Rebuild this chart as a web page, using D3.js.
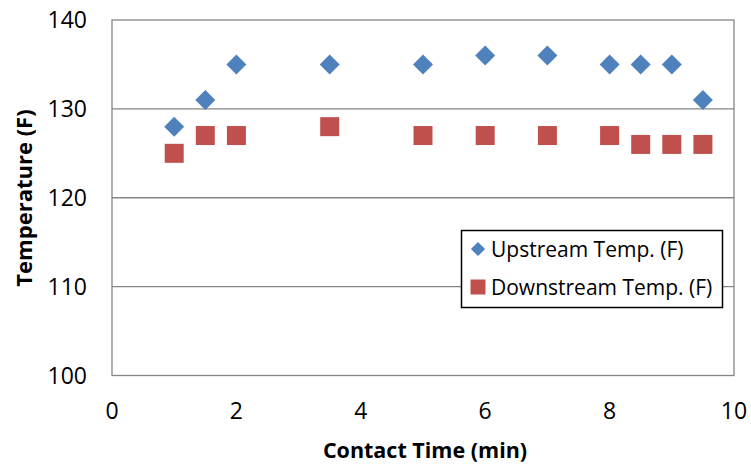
<html>
<head>
  <meta charset="utf-8">
  <script src="https://cdnjs.cloudflare.com/ajax/libs/d3/7.8.5/d3.min.js"></script>
  <style>
    body { margin: 0; background: #fff; }
    text { font-family: "Open Sans", sans-serif; fill: #000; }
  </style>
</head>
<body>
  <div id="viz"></div>
  <script>
    // contact time (min)
    var times = [1, 1.5, 2, 3.5, 5, 6, 7, 8, 8.5, 9, 9.5];
    // temperatures (F)
    var upstream = [128, 131, 135, 135, 135, 136, 136, 135, 135, 135, 131];
    var downstream = [125, 127, 127, 128, 127, 127, 127, 127, 126, 126, 126];
    var xTicks = [0, 2, 4, 6, 8, 10];
    var yTicks = [100, 110, 120, 130, 140];
    var seriesNames = ["Upstream Temp. (F)", "Downstream Temp. (F)"];

    var width = 751, height = 469;
    var plotLeft = 112, plotRight = 734, plotTop = 20, plotBottom = 375.5;

    var svg = d3.select("#viz").append("svg")
        .attr("width", width)
        .attr("height", height);

    var x = d3.scaleLinear().domain([0, 10]).range([plotLeft, plotRight]);
    var y = d3.scaleLinear().domain([100, 140]).range([plotBottom, plotTop]);

    // gridlines
    svg.append("g").selectAll("line")
        .data(yTicks.filter(function (d) { return d > 100 && d < 140; }))
        .enter().append("line")
          .attr("x1", plotLeft).attr("x2", plotRight)
          .attr("y1", function (d) { return y(d); })
          .attr("y2", function (d) { return y(d); })
          .attr("stroke", "#868686")
          .attr("stroke-width", 1.3);

    // plot border
    svg.append("rect")
        .attr("x", plotLeft).attr("y", plotTop)
        .attr("width", plotRight - plotLeft).attr("height", plotBottom - plotTop)
        .attr("fill", "none")
        .attr("stroke", "#868686")
        .attr("stroke-width", 1.3);

    // tick labels
    svg.append("g").selectAll("text")
        .data(yTicks)
        .enter().append("text")
          .attr("x", 87)
          .attr("y", function (d) { return y(d); })
          .attr("dy", "0.36em")
          .attr("text-anchor", "end")
          .style("font-size", "23px")
          .text(function (d) { return d; });

    svg.append("g").selectAll("text")
        .data(xTicks)
        .enter().append("text")
          .attr("x", function (d) { return x(d); })
          .attr("y", 419)
          .attr("text-anchor", "middle")
          .style("font-size", "23px")
          .text(function (d) { return d; });

    // axis titles
    svg.append("text")
        .attr("x", 425)
        .attr("y", 458)
        .attr("text-anchor", "middle")
        .style("font-size", "21.5px")
        .style("font-weight", "bold")
        .text("Contact Time (min)");

    svg.append("text")
        .attr("transform", "translate(32,198) rotate(-90)")
        .attr("text-anchor", "middle")
        .style("font-size", "22px")
        .style("font-weight", "bold")
        .text("Temperature (F)");

    var diamond = d3.symbol().type(d3.symbolSquare).size(200);

    // upstream diamonds
    svg.append("g").selectAll("path")
        .data(times)
        .enter().append("path")
          .attr("d", diamond)
          .attr("transform", function (d, i) {
            return "translate(" + x(d) + "," + y(upstream[i]) + ") rotate(45)";
          })
          .attr("fill", "#4F81BD");

    // downstream squares
    svg.append("g").selectAll("rect")
        .data(times)
        .enter().append("rect")
          .attr("x", function (d) { return x(d) - 9.5; })
          .attr("y", function (d, i) { return y(downstream[i]) - 9.5; })
          .attr("width", 19).attr("height", 19)
          .attr("fill", "#C0504D");

    // legend
    var legend = svg.append("g");
    legend.append("rect")
        .attr("x", 461.5).attr("y", 230.5)
        .attr("width", 261).attr("height", 77)
        .attr("fill", "#fff")
        .attr("stroke", "#000")
        .attr("stroke-width", 1.5);

    var rows = legend.selectAll("g")
        .data(seriesNames)
        .enter().append("g")
          .attr("transform", function (d, i) { return "translate(0," + (249 + i * 38) + ")"; });

    rows.filter(function (d, i) { return i === 0; }).append("path")
        .attr("d", d3.symbol().type(d3.symbolSquare).size(100))
        .attr("transform", "translate(478,0) rotate(45)")
        .attr("fill", "#4F81BD");

    rows.filter(function (d, i) { return i === 1; }).append("rect")
        .attr("x", 470.5).attr("y", -7.5)
        .attr("width", 15).attr("height", 15)
        .attr("fill", "#C0504D");

    rows.append("text")
        .attr("x", 491)
        .attr("dy", "0.36em")
        .style("font-size", "21px")
        .text(function (d) { return d; });
  </script>
</body>
</html>
